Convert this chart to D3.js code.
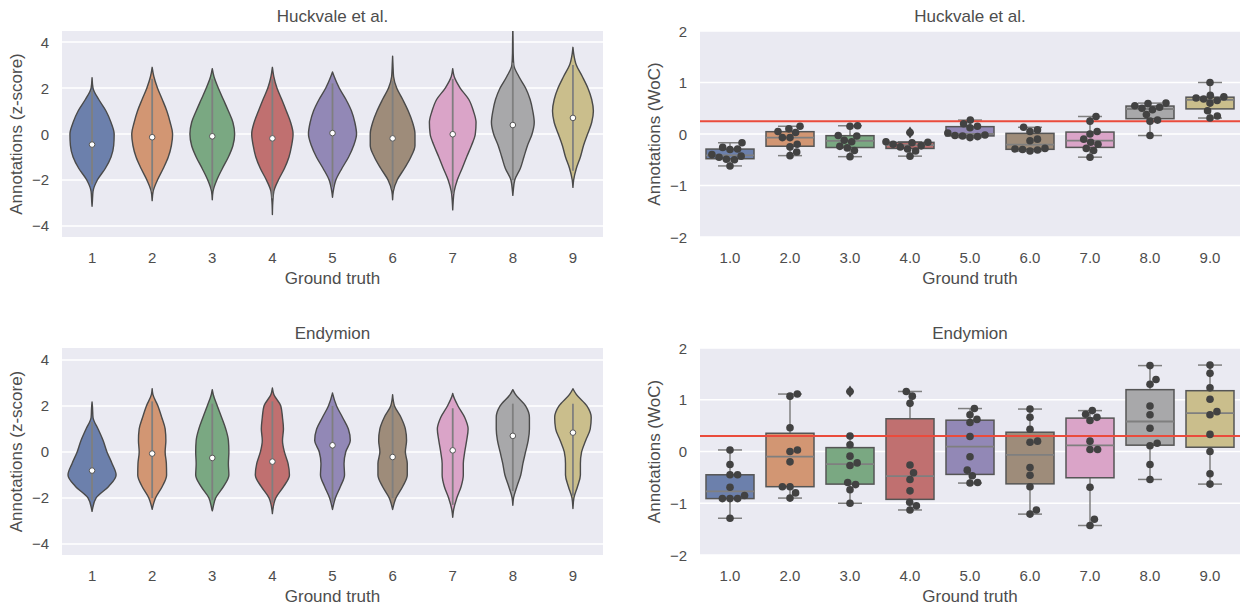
<!DOCTYPE html>
<html>
<head>
<meta charset="utf-8">
<script src="https://cdn.jsdelivr.net/npm/d3@7"></script>
<style>
  body { margin: 0; background: #fff; }
  text { font-family: Arial, "Liberation Sans", sans-serif; fill: #4d4d4d; }
</style>
</head>
<body>
<svg id="chart" width="1240" height="608"></svg>
<script>
// categories / ticks
const groundTruth = [1, 2, 3, 4, 5, 6, 7, 8, 9];
const violinTickLabels = ['1', '2', '3', '4', '5', '6', '7', '8', '9'];
const boxTickLabels = ['1.0', '2.0', '3.0', '4.0', '5.0', '6.0', '7.0', '8.0', '9.0'];
const violinTicks = [-4, -2, 0, 2, 4];
const boxTicks = [-2, -1, 0, 1, 2];
// muted fills as they appear in the picture
const palette = ['#6C80AC', '#D29673', '#7AA882', '#C07070', '#9288B6', '#9E8C7A', '#DAA4C8', '#A8A8AA', '#CABE8C'];

// violin outlines: relative half width at each level
const densityLevels = [-3, -2.5, -2, -1.5, -1, -0.5, 0, 0.5, 1, 1.5, 2, 2.5, 3, 3.5, 4];

const hucTipLo = [-3.14, -2.9, -2.86, -3.5, -2.75, -2.86, -3.3, -2.67, -2.32];
const hucTipHi = [2.45, 2.9, 2.84, 2.9, 2.7, 3.38, 2.84, 4.7, 3.77];
const hucDensity = [
  [0.01, 0.04, 0.22, 0.55, 0.79, 0.9, 0.92, 0.79, 0.58, 0.28, 0.04, 0, 0, 0, 0],
  [0, 0.04, 0.22, 0.46, 0.67, 0.8, 0.85, 0.75, 0.61, 0.42, 0.22, 0.07, 0, 0, 0],
  [0, 0.03, 0.19, 0.42, 0.67, 0.86, 0.93, 0.86, 0.67, 0.46, 0.25, 0.07, 0, 0, 0],
  [0.015, 0.06, 0.25, 0.5, 0.69, 0.8, 0.86, 0.76, 0.58, 0.39, 0.19, 0.06, 0, 0, 0],
  [0, 0.03, 0.14, 0.39, 0.67, 0.88, 1.0, 0.93, 0.79, 0.56, 0.28, 0.07, 0, 0, 0],
  [0, 0.03, 0.19, 0.49, 0.76, 0.93, 0.93, 0.83, 0.65, 0.42, 0.17, 0.04, 0.015, 0, 0],
  [0.015, 0.06, 0.19, 0.39, 0.58, 0.78, 0.94, 0.97, 0.86, 0.67, 0.31, 0.06, 0, 0, 0],
  [0, 0.015, 0.08, 0.31, 0.46, 0.61, 0.8, 0.89, 0.83, 0.72, 0.53, 0.25, 0.04, 0.015, 0.01],
  [0, 0, 0.03, 0.14, 0.31, 0.44, 0.61, 0.78, 0.85, 0.78, 0.62, 0.39, 0.14, 0.03, 0]
];
const hucWhiskLo = [-2.2, -2.5, -2.4, -2.8, -2.3, -2.4, -2.6, -2.0, -1.6];
const hucWhiskHi = [1.9, 2.4, 2.4, 2.4, 2.2, 2.3, 2.4, 3.1, 3.0];
const hucMedian = [-0.46, -0.14, -0.1, -0.19, 0.04, -0.19, -0.01, 0.39, 0.7];

const endTipLo = [-2.58, -2.49, -2.56, -2.68, -2.5, -2.5, -2.84, -2.32, -2.46];
const endTipHi = [2.17, 2.75, 2.71, 2.78, 2.57, 2.49, 2.54, 2.71, 2.75];
const endDensity = [
  [0, 0.015, 0.17, 0.69, 1.0, 0.83, 0.62, 0.46, 0.25, 0.04, 0.015, 0, 0, 0, 0],
  [0, 0.02, 0.14, 0.42, 0.6, 0.59, 0.54, 0.57, 0.54, 0.4, 0.24, 0.03, 0, 0, 0],
  [0, 0.015, 0.14, 0.47, 0.69, 0.67, 0.69, 0.67, 0.56, 0.39, 0.21, 0.04, 0, 0, 0],
  [0, 0.02, 0.14, 0.47, 0.71, 0.65, 0.5, 0.42, 0.46, 0.42, 0.35, 0.06, 0, 0, 0],
  [0, 0.01, 0.12, 0.33, 0.5, 0.48, 0.55, 0.74, 0.66, 0.42, 0.17, 0.015, 0, 0, 0],
  [0, 0, 0.14, 0.42, 0.61, 0.61, 0.53, 0.58, 0.53, 0.35, 0.08, 0, 0, 0, 0],
  [0, 0.04, 0.17, 0.35, 0.44, 0.44, 0.5, 0.58, 0.64, 0.5, 0.22, 0.01, 0, 0, 0],
  [0, 0, 0.03, 0.17, 0.33, 0.42, 0.53, 0.64, 0.69, 0.69, 0.53, 0.11, 0, 0, 0],
  [0, 0, 0.04, 0.19, 0.31, 0.31, 0.36, 0.53, 0.72, 0.76, 0.58, 0.14, 0, 0, 0]
];
const endWhiskLo = [-2.1, -2.0, -2.1, -2.2, -2.2, -2.0, -2.3, -1.7, -1.9];
const endWhiskHi = [1.3, 2.2, 2.1, 2.2, 2.0, 2.0, 1.9, 2.1, 2.1];
const endMedian = [-0.81, -0.07, -0.26, -0.42, 0.29, -0.22, 0.07, 0.7, 0.84];

// wisdom-of-crowd annotations, 10 per ground truth level
const hucWoC = [
  [-0.17, -0.26, -0.29, -0.3, -0.4, -0.43, -0.45, -0.49, -0.5, -0.62],
  [0.15, 0.1, 0.05, 0.03, -0.07, -0.07, -0.2, -0.25, -0.35, -0.42],
  [0.16, 0.15, -0.03, -0.04, -0.12, -0.15, -0.24, -0.27, -0.32, -0.44],
  [0.03, -0.15, -0.16, -0.17, -0.2, -0.23, -0.25, -0.29, -0.33, -0.43],
  [0.27, 0.2, 0.15, 0.12, 0.02, -0.02, -0.03, -0.04, -0.05, -0.07],
  [0.13, 0.08, 0.05, -0.1, -0.13, -0.28, -0.29, -0.3, -0.31, -0.33],
  [0.34, 0.25, 0.05, 0.0, -0.1, -0.16, -0.2, -0.28, -0.32, -0.45],
  [0.6, 0.59, 0.55, 0.52, 0.5, 0.47, 0.38, 0.27, 0.25, -0.03],
  [1.0, 0.75, 0.72, 0.7, 0.68, 0.65, 0.6, 0.45, 0.35, 0.31]
];
const endWoC = [
  [0.03, -0.25, -0.45, -0.45, -0.69, -0.85, -0.91, -0.91, -0.91, -1.29],
  [1.11, 1.07, 0.46, 0.03, 0.0, -0.2, -0.68, -0.68, -0.8, -0.9],
  [1.16, 0.3, 0.13, -0.09, -0.22, -0.27, -0.6, -0.64, -0.74, -1.0],
  [1.16, 1.07, 0.93, -0.26, -0.41, -0.54, -0.76, -0.98, -1.05, -1.13],
  [0.83, 0.71, 0.62, 0.56, 0.29, -0.1, -0.36, -0.47, -0.6, -0.61],
  [0.82, 0.66, 0.43, 0.2, 0.18, -0.31, -0.46, -0.68, -1.13, -1.21],
  [0.79, 0.72, 0.66, 0.6, 0.2, 0.04, 0.04, -0.69, -1.31, -1.43],
  [1.66, 1.39, 1.3, 0.88, 0.71, 0.45, 0.16, 0.11, -0.25, -0.54],
  [1.67, 1.51, 1.23, 1.01, 0.77, 0.71, 0.33, 0.0, -0.43, -0.63]
];
const hucWoCRef = 0.25;
const endWoCRef = 0.3;

const svg = d3.select('#chart');
const fmt = (v) => String(v).replace('-', '\u2212');

let clipId = 0;
function drawPanel(box, title, yDomain, yTicks, xLabels, yLabel) {
  const x = d3.scaleBand().domain(groundTruth).range([box.x0, box.x1]).padding(0);
  const y = d3.scaleLinear().domain(yDomain).range([box.y1, box.y0]);
  const g = svg.append('g');

  g.append('rect')
    .attr('x', box.x0).attr('y', box.y0)
    .attr('width', box.x1 - box.x0).attr('height', box.y1 - box.y0)
    .attr('fill', '#EAEAF2');

  g.append('g').selectAll('line')
    .data(yTicks)
    .enter().append('line')
    .attr('x1', box.x0).attr('x2', box.x1)
    .attr('y1', (d) => y(d)).attr('y2', (d) => y(d))
    .attr('stroke', '#fff').attr('stroke-width', 1.6);

  g.append('g').selectAll('text')
    .data(yTicks)
    .enter().append('text')
    .attr('x', box.x0 - 13).attr('y', (d) => y(d) + 5.5)
    .attr('text-anchor', 'end').attr('font-size', 15)
    .text((d) => fmt(d));

  g.append('g').selectAll('text')
    .data(groundTruth)
    .enter().append('text')
    .attr('x', (d) => x(d) + x.bandwidth() / 2).attr('y', box.y1 + 26)
    .attr('text-anchor', 'middle').attr('font-size', 15)
    .text((d, i) => xLabels[i]);

  g.append('text')
    .attr('x', (box.x0 + box.x1) / 2).attr('y', box.y1 + 47)
    .attr('text-anchor', 'middle').attr('font-size', 17)
    .text('Ground truth');

  g.append('text')
    .attr('transform', `translate(${box.x0 - 40}, ${(box.y0 + box.y1) / 2}) rotate(-90)`)
    .attr('text-anchor', 'middle').attr('font-size', 17)
    .text(yLabel);

  g.append('text')
    .attr('x', (box.x0 + box.x1) / 2).attr('y', box.y0 - 9)
    .attr('text-anchor', 'middle').attr('font-size', 17)
    .text(title);

  const id = 'clip' + (clipId++);
  svg.append('clipPath').attr('id', id).append('rect')
    .attr('x', box.x0).attr('y', box.y0)
    .attr('width', box.x1 - box.x0).attr('height', box.y1 - box.y0);
  const plot = g.append('g').attr('clip-path', `url(#${id})`);
  return { plot, x, y };
}

function drawViolins(panel, tipLo, tipHi, density, whiskLo, whiskHi, median) {
  const { plot, x, y } = panel;
  const half = x.bandwidth() * 0.4;
  groundTruth.forEach((gt, i) => {
    const cx = x(gt) + x.bandwidth() / 2;
    const pts = [{ v: tipHi[i], w: 0 }];
    for (let j = densityLevels.length - 1; j >= 0; j--) {
      const lv = densityLevels[j];
      if (lv > tipLo[i] && lv < tipHi[i]) pts.push({ v: lv, w: density[i][j] });
    }
    pts.push({ v: tipLo[i], w: 0 });
    const area = d3.area()
      .y((d) => y(d.v))
      .x0((d) => cx - d.w * half)
      .x1((d) => cx + d.w * half)
      .curve(d3.curveMonotoneY);
    plot.append('path')
      .attr('d', area(pts))
      .attr('fill', palette[i])
      .attr('stroke', '#4a4a4a').attr('stroke-width', 1.4)
      .attr('stroke-linejoin', 'round');
    plot.append('line')
      .attr('x1', cx).attr('x2', cx)
      .attr('y1', y(whiskHi[i])).attr('y2', y(whiskLo[i]))
      .attr('stroke', '#7f7f7f').attr('stroke-width', 1.8);
    plot.append('circle')
      .attr('cx', cx).attr('cy', y(median[i])).attr('r', 2.8)
      .attr('fill', '#fff').attr('stroke', '#555').attr('stroke-width', 1);
  });
}

// beeswarm offsets in pixels, nearest free slot to the centre
function swarmOffsets(values, y, r) {
  const order = d3.range(values.length).sort((a, b) => values[a] - values[b]);
  const placed = [];
  const out = new Array(values.length);
  order.forEach((i) => {
    const py = y(values[i]);
    const cands = [0];
    placed.forEach((p) => {
      const dy = Math.abs(p.y - py);
      if (dy < 2 * r) {
        const dx = Math.sqrt(4 * r * r - dy * dy);
        cands.push(p.x + dx, p.x - dx);
      }
    });
    cands.sort((a, b) => Math.abs(a) - Math.abs(b));
    const cx = cands.find((c) => placed.every((p) => (p.x - c) ** 2 + (p.y - py) ** 2 >= 4 * r * r - 0.01));
    placed.push({ x: cx, y: py });
    out[i] = cx;
  });
  return out;
}

function drawBoxes(panel, data, ref) {
  const { plot, x, y } = panel;
  const bw = x.bandwidth() * 0.8;
  const stats = data.map((vals) => {
    const s = vals.slice().sort(d3.ascending);
    const q1 = d3.quantile(s, 0.25), med = d3.quantile(s, 0.5), q3 = d3.quantile(s, 0.75);
    const iqr = q3 - q1;
    const inside = s.filter((v) => v >= q1 - 1.5 * iqr && v <= q3 + 1.5 * iqr);
    return {
      q1, med, q3,
      lo: d3.min(inside), hi: d3.max(inside),
      fliers: s.filter((v) => v < q1 - 1.5 * iqr || v > q3 + 1.5 * iqr)
    };
  });

  stats.forEach((st, i) => {
    const cx = x(groundTruth[i]) + x.bandwidth() / 2;
    const gb = plot.append('g');
    gb.append('line')
      .attr('x1', cx).attr('x2', cx).attr('y1', y(st.q3)).attr('y2', y(st.hi))
      .attr('stroke', '#7f7f7f').attr('stroke-width', 1.5);
    gb.append('line')
      .attr('x1', cx).attr('x2', cx).attr('y1', y(st.q1)).attr('y2', y(st.lo))
      .attr('stroke', '#7f7f7f').attr('stroke-width', 1.5);
    [st.hi, st.lo].forEach((v) => {
      gb.append('line')
        .attr('x1', cx - bw / 4).attr('x2', cx + bw / 4).attr('y1', y(v)).attr('y2', y(v))
        .attr('stroke', '#7f7f7f').attr('stroke-width', 1.5);
    });
    gb.append('rect')
      .attr('x', cx - bw / 2).attr('y', y(st.q3))
      .attr('width', bw).attr('height', y(st.q1) - y(st.q3))
      .attr('fill', palette[i])
      .attr('stroke', '#555').attr('stroke-width', 1.5);
    gb.append('line')
      .attr('x1', cx - bw / 2).attr('x2', cx + bw / 2).attr('y1', y(st.med)).attr('y2', y(st.med))
      .attr('stroke', '#7f7f7f').attr('stroke-width', 1.8);
    st.fliers.forEach((v) => {
      const fy = y(v);
      gb.append('path')
        .attr('d', `M${cx},${fy - 6}L${cx + 4},${fy}L${cx},${fy + 6}L${cx - 4},${fy}Z`)
        .attr('fill', '#3f3f3f');
    });
  });

  plot.append('line')
    .attr('x1', x.range()[0]).attr('x2', x.range()[1])
    .attr('y1', y(ref)).attr('y2', y(ref))
    .attr('stroke', '#EA4B3C').attr('stroke-width', 2);

  data.forEach((vals, i) => {
    const cx = x(groundTruth[i]) + x.bandwidth() / 2;
    const offs = swarmOffsets(vals, y, 3.8);
    plot.append('g').selectAll('circle')
      .data(vals)
      .enter().append('circle')
      .attr('cx', (d, k) => cx + offs[k])
      .attr('cy', (d) => y(d))
      .attr('r', 3.8)
      .attr('fill', '#424242');
  });
}

const tl = drawPanel({ x0: 62, x1: 603, y0: 31, y1: 237 }, 'Huckvale et al.', [-4.48, 4.48], violinTicks, violinTickLabels, 'Annotations (z-score)');
drawViolins(tl, hucTipLo, hucTipHi, hucDensity, hucWhiskLo, hucWhiskHi, hucMedian);

const tr = drawPanel({ x0: 700, x1: 1240, y0: 31, y1: 237 }, 'Huckvale et al.', [-2, 2], boxTicks, boxTickLabels, 'Annotations (WoC)');
drawBoxes(tr, hucWoC, hucWoCRef);

const bl = drawPanel({ x0: 62, x1: 603, y0: 348, y1: 555 }, 'Endymion', [-4.48, 4.52], violinTicks, violinTickLabels, 'Annotations (z-score)');
drawViolins(bl, endTipLo, endTipHi, endDensity, endWhiskLo, endWhiskHi, endMedian);

const br = drawPanel({ x0: 700, x1: 1240, y0: 348, y1: 555 }, 'Endymion', [-2, 2], boxTicks, boxTickLabels, 'Annotations (WoC)');
drawBoxes(br, endWoC, endWoCRef);
</script>
</body>
</html>
